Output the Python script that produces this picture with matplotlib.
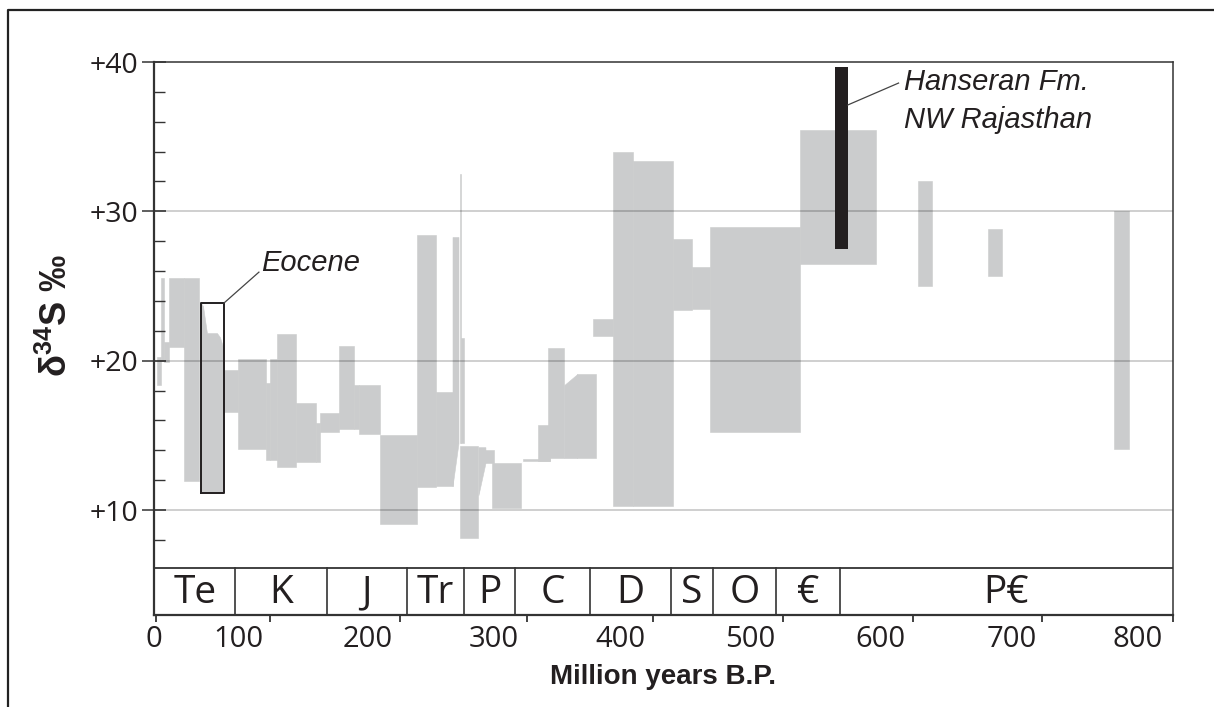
import numpy as np
import matplotlib.pyplot as plt
from matplotlib.lines import Line2D

plt.rcParams['mathtext.fontset'] = 'custom'
plt.rcParams['mathtext.rm'] = 'Liberation Sans'
plt.rcParams['mathtext.bf'] = 'Liberation Sans:bold'

# gray envelope blocks (age in Ma, delta34S in permil)
rect_start = [0.8, 3.9, 6.3, 10.2, 22.0, 53.4, 64.4, 86.4, 89.5, 95.5,
              109.9, 125.6, 128.8, 143.7, 155.4, 159.4, 175.9, 204.9, 220.6, 238.7,
              240.2, 238.7, 255.9, 264.6, 288.9, 300.7, 308.5, 343.9, 359.6, 375.3,
              406.7, 421.6, 435.7, 506.4, 599.8, 654.8, 753.7]
rect_end = [3.9, 6.3, 10.2, 22.0, 33.8, 64.4, 86.4, 89.5, 95.5, 109.9,
            125.6, 128.8, 143.7, 155.4, 159.4, 175.9, 204.9, 220.6, 233.2, 240.2,
            242.6, 253.6, 266.1, 287.3, 310.1, 310.1, 321.1, 359.6, 375.3, 406.7,
            421.6, 435.7, 506.4, 566.0, 610.8, 665.7, 765.5]
rect_low = [18.37, 20.0, 19.9, 20.91, 11.94, 16.56, 14.08, 13.34, 13.34, 12.87,
            13.21, 13.21, 15.22, 15.42, 15.42, 15.08, 9.06, 11.53, 11.60, 14.48,
            14.48, 8.12, 13.14, 10.13, 13.28, 13.28, 13.48, 21.65, 10.26, 10.26,
            23.39, 23.46, 15.22, 26.47, 25.00, 25.67, 14.08]
rect_high = [20.24, 25.53, 21.25, 25.53, 25.53, 19.37, 20.11, 18.50, 20.11, 21.78,
             17.16, 15.82, 16.49, 20.98, 18.37, 18.37, 15.02, 28.41, 17.90, 32.50,
             21.51, 14.28, 14.01, 13.14, 13.41, 15.69, 20.84, 22.79, 33.97, 33.37,
             28.14, 26.27, 28.95, 35.45, 32.03, 28.81, 30.02]

# slanted pieces
trap_x0 = [233.2, 253.6, 321.1, 331.3]
trap_x1 = [237.9, 259.1, 331.3, 346.2]
trap_low0 = [11.60, 11.00, 13.48, 13.48]
trap_low1 = [14.48, 13.14, 13.48, 13.48]
trap_high0 = [28.28, 14.21, 18.37, 19.10]
trap_high1 = [28.28, 14.21, 19.10, 19.10]

# Eocene values inside the outlined box
eocene_age = [35.3, 36.9, 40.0, 47.9, 50.2, 53.4]
eocene_top = [23.86, 23.66, 21.85, 21.85, 21.58, 20.71]
eocene_bottom = 11.13
eocene_box = (35.3, 53.4, 11.13, 23.86)

# Hanseran Formation, NW Rajasthan
hanseran_age = (533.9, 544.1)
hanseran_range = (27.47, 39.67)

# geological periods
period_names = ['Te', 'K', 'J', 'Tr', 'P', 'C', 'D', 'S', 'O', '€', 'P€']
period_bounds = [0, 62.0, 134.2, 197.4, 242.6, 282.6, 341.5, 405.1, 438.1, 487.5, 537.8, 800]

x_tick_marks = [0, 89.5, 191.6, 292.1, 391.0, 493.0, 595.1, 697.2, 800]
x_label_pos = [-1.6, 64.4, 166.4, 265.4, 365.1, 467.1, 570.0, 672.8, 772.5]
x_labels = ['0', '100', '200', '300', '400', '500', '600', '700', '800']
y_major = [10, 20, 30, 40]
y_labels = ['+10', '+20', '+30', '+40']
y_minor = [8, 12, 14, 16, 18, 22, 24, 26, 28, 32, 34, 36, 38]

gray = '#cbcccd'
dark = '#231f20'
ybot = 2.97
band_top = 6.1

fig = plt.figure(figsize=(12.14, 7.07), dpi=100)
ax = fig.add_axes([0.1269, 0.1301, 0.8393, 0.7822])

starts = np.array(rect_start)
ends = np.array(rect_end)
lows = np.array(rect_low)
highs = np.array(rect_high)
ax.bar(starts, highs - lows, width=ends - starts, bottom=lows, align='edge',
       color=gray, edgecolor=gray, linewidth=0.4, zorder=1)

for i in range(len(trap_x0)):
    ax.fill_between([trap_x0[i], trap_x1[i]], [trap_low0[i], trap_low1[i]],
                    [trap_high0[i], trap_high1[i]], color=gray, linewidth=0.4, zorder=1)

ax.fill_between(eocene_age, eocene_bottom, eocene_top, color=gray, linewidth=0.4, zorder=1)
ex0, ex1, ey0, ey1 = eocene_box
ax.plot([ex0, ex1, ex1, ex0, ex0], [ey0, ey0, ey1, ey1, ey0], color=dark, lw=1.4, zorder=4)

# grid lines
for v in [10, 20, 30]:
    ax.axhline(v, color='black', alpha=0.22, lw=1.2, zorder=2)

ax.bar(hanseran_age[0], hanseran_range[1] - hanseran_range[0],
       width=hanseran_age[1] - hanseran_age[0], bottom=hanseran_range[0],
       align='edge', color=dark, zorder=3)

# annotations
ax.plot([ex1, 80.9], [ey1, 25.93], color='#444444', lw=0.9, zorder=4)
ax.text(82.5, 26.0, 'Eocene', family='Liberation Sans', style='italic',
        fontsize=21, color=dark, va='baseline', ha='left')
ax.plot([hanseran_age[1], 584.1], [37.12, 38.59], color='#444444', lw=0.9, zorder=4)
ax.text(588.5, 38.1, 'Hanseran Fm.', family='Liberation Sans', style='italic',
        fontsize=21, color=dark, va='baseline', ha='left')
ax.text(588.5, 35.55, 'NW Rajasthan', family='Liberation Sans', style='italic',
        fontsize=21, color=dark, va='baseline', ha='left')

# period band
ax.axhline(band_top, color='#333333', lw=1.3, zorder=5)
for b in period_bounds[1:-1]:
    ax.plot([b, b], [ybot, band_top], color='#333333', lw=1.2, zorder=5)
for k, name in enumerate(period_names):
    mid = (period_bounds[k] + period_bounds[k + 1]) / 2
    ax.text(mid, (ybot + band_top) / 2 - 0.1, name, family='Open Sans', fontsize=28,
            color=dark, ha='center', va='center', zorder=6)

ax.set_xlim(0, 800)
ax.set_ylim(ybot, 40)

ax.set_xticks(x_tick_marks, labels=[''] * len(x_tick_marks))
ax.set_xticks(x_label_pos, labels=x_labels, minor=True)
ax.tick_params(axis='x', which='major', direction='out', length=5, width=1.3, color='#333333')
ax.tick_params(axis='x', which='minor', length=0, pad=7, labelsize=21, labelcolor=dark)

ax.set_yticks(y_major, labels=y_labels)
ax.set_yticks(y_minor, minor=True)
ax.tick_params(axis='y', which='major', direction='inout', length=17, width=1.1,
               color='#333333', pad=3, labelsize=20.5, labelcolor=dark)
ax.tick_params(axis='y', which='minor', direction='in', length=8, width=1.0, color='#333333')
for lab in ax.get_xticklabels(minor=True) + ax.get_yticklabels():
    lab.set_family('Open Sans')

for side in ['left', 'bottom']:
    ax.spines[side].set_linewidth(1.6)
    ax.spines[side].set_color('#333333')
for side in ['top', 'right']:
    ax.spines[side].set_linewidth(1.1)
    ax.spines[side].set_color('#333333')

fig.text(0.546, 0.042, 'Million years B.P.', family='Liberation Sans', weight='bold',
         fontsize=20, color=dark, ha='center', va='center')
fig.text(0.047, 0.554, 'δ$^{\\mathbf{34}}$S ‰', family='Liberation Sans', weight='bold',
         fontsize=26, color=dark, ha='center', va='center', rotation=90)

# outer frame
fig.add_artist(Line2D([8 / 1214, 8 / 1214, 1], [0, 1 - 10 / 707, 1 - 10 / 707],
                      transform=fig.transFigure, color='#222222', lw=1.6))

fig.savefig('out.png', dpi=100)
